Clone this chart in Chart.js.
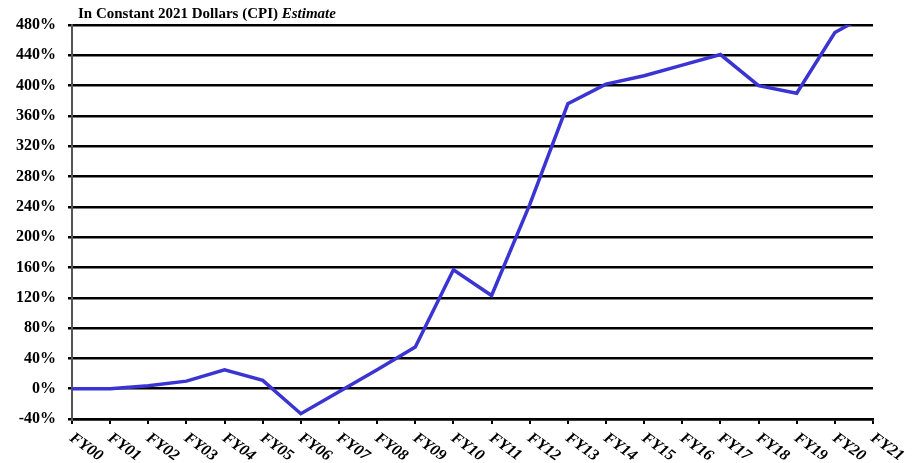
<!DOCTYPE html>
<html>
<head>
<meta charset="utf-8">
<script src="https://cdn.jsdelivr.net/npm/chart.js@4"></script>
<style>
  html, body { margin: 0; padding: 0; background: #fff; }
  #wrap { width: 921px; height: 463px; }
</style>
</head>
<body>
<div id="wrap"><canvas id="growthChart" width="921" height="463"></canvas></div>
<script>
const years = ["FY00", "FY01", "FY02", "FY03", "FY04", "FY05", "FY06", "FY07", "FY08", "FY09", "FY10",
  "FY11", "FY12", "FY13", "FY14", "FY15", "FY16", "FY17", "FY18", "FY19", "FY20", "FY21"];
const growth = [0, 0, 4, 10, 25, 11, -33, -4, 25, 55, 157,
  123, 243, 376, 402, 413, 427, 441, 400, 390, 470, 498];
const titleMain = "In Constant 2021 Dollars (CPI) ";
const titleItalic = "Estimate";

// title with a bold part and an italic part
const titlePlugin = {
  id: "titleText",
  afterDraw(chart) {
    const ctx = chart.ctx;
    ctx.save();
    ctx.fillStyle = "#000";
    ctx.textBaseline = "alphabetic";
    ctx.textAlign = "left";
    ctx.font = "bold 15px 'Liberation Serif'";
    ctx.fillText(titleMain, 78, 18);
    const w = ctx.measureText(titleMain).width;
    ctx.font = "italic bold 15px 'Liberation Serif'";
    ctx.fillText(titleItalic, 78 + w, 18);
    ctx.restore();
  }
};

// x labels slanted down to the right, starting at each tick
const slantLabels = {
  id: "slantLabels",
  afterDraw(chart) {
    const ctx = chart.ctx;
    const xs = chart.scales.x;
    const bottom = chart.chartArea.bottom;
    ctx.save();
    ctx.fillStyle = "#000";
    ctx.font = "italic bold 16px 'Liberation Serif'";
    ctx.textAlign = "left";
    ctx.textBaseline = "top";
    years.forEach(function (lab, i) {
      const x = xs.getPixelForValue(i);
      ctx.save();
      ctx.translate(x + 4, bottom + 11);
      ctx.rotate(36 * Math.PI / 180);
      ctx.fillText(lab, 0, 0);
      ctx.restore();
    });
    ctx.restore();
  }
};

new Chart(document.getElementById("growthChart"), {
  type: "line",
  data: {
    labels: years,
    datasets: [{
      data: growth,
      borderColor: "#3a35d2",
      borderWidth: 3.5,
      pointRadius: 0,
      tension: 0,
      fill: false
    }]
  },
  options: {
    responsive: false,
    animation: false,
    layout: { padding: { top: 25, right: 48, left: 0, bottom: 0 } },
    plugins: {
      legend: { display: false },
      tooltip: { enabled: false }
    },
    scales: {
      x: {
        offset: false,
        afterFit: function (s) { s.height = 44; },
        ticks: { display: false },
        grid: {
          drawOnChartArea: false,
          drawTicks: true,
          tickLength: 5,
          color: "#000",
          lineWidth: 2
        },
        border: { color: "#000", width: 2.5 }
      },
      y: {
        min: -40,
        max: 480,
        afterFit: function (s) { s.width = 72; },
        ticks: {
          stepSize: 40,
          padding: 12,
          color: "#000",
          font: { family: "Liberation Serif", size: 16, weight: "bold" },
          callback: function (v) { return v + "%"; }
        },
        grid: {
          color: "#000",
          lineWidth: 2.5,
          tickLength: 4,
          drawTicks: true
        },
        border: { color: "#555", width: 2 }
      }
    }
  },
  plugins: [titlePlugin, slantLabels]
});
</script>
</body>
</html>
